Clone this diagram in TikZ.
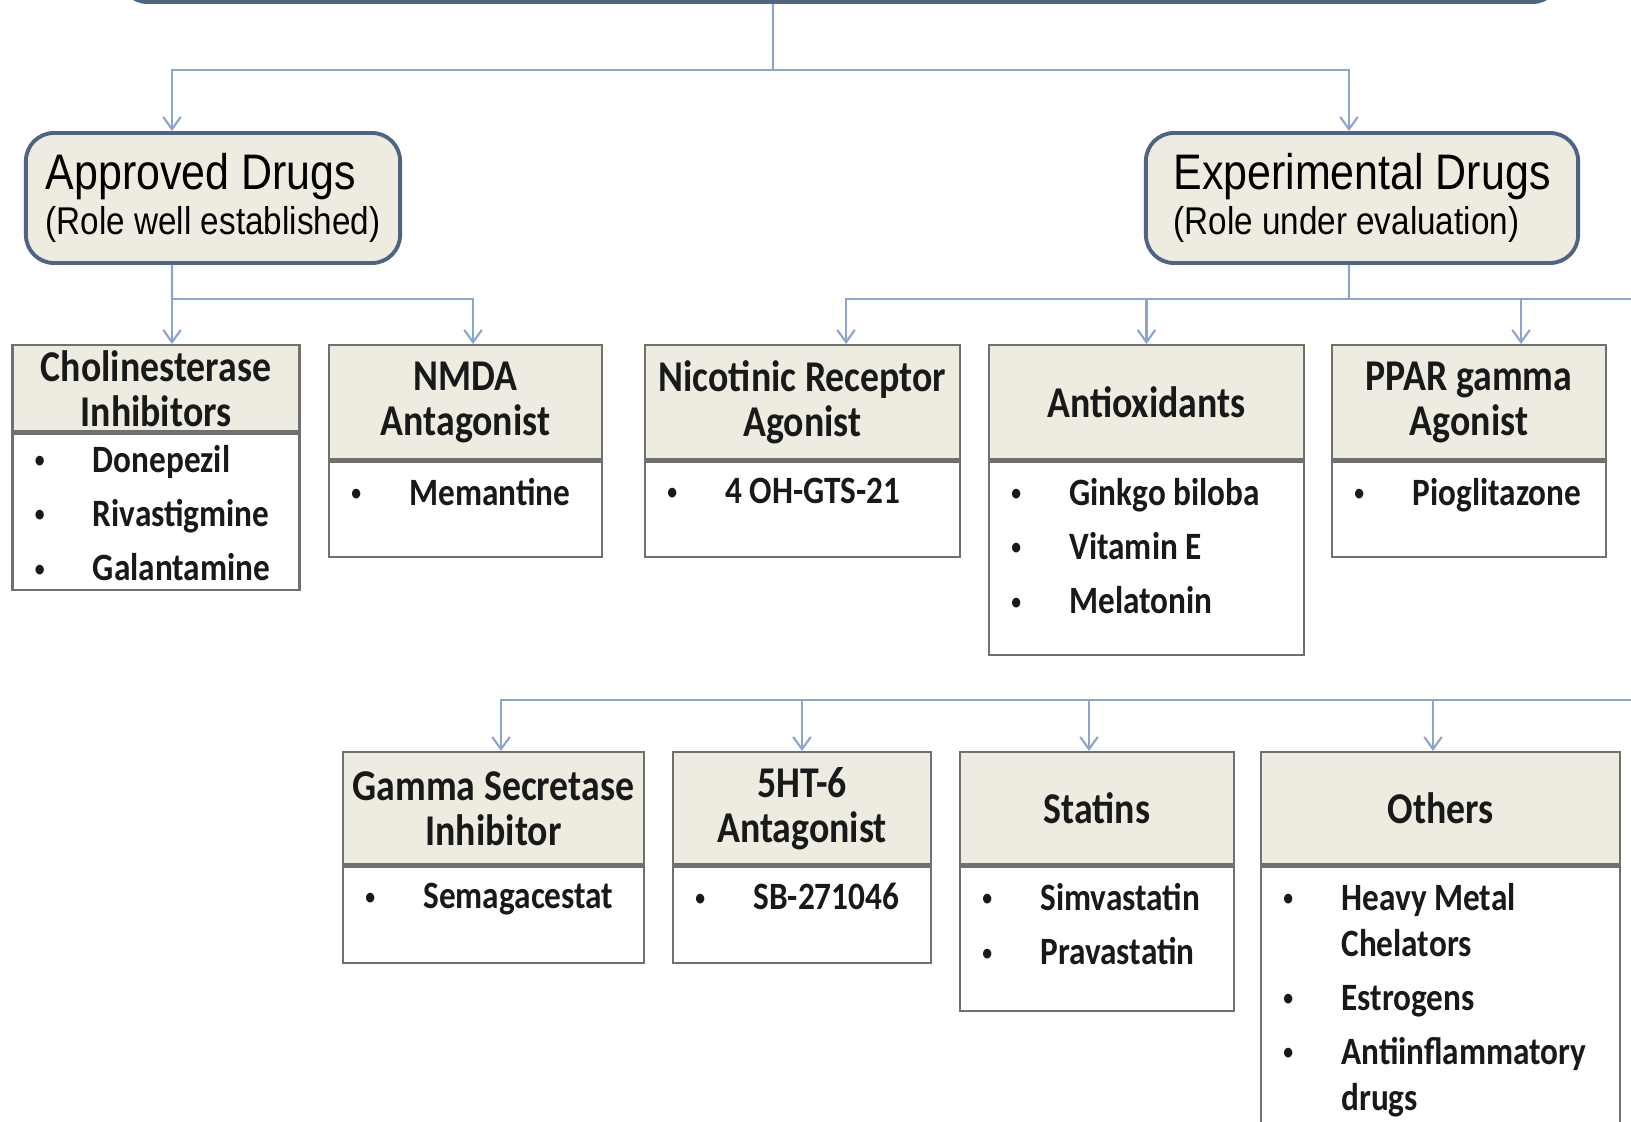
\documentclass[tikz,border=0pt]{standalone}
\usepackage{fontspec}
\usepackage{tikz}
\usetikzlibrary{positioning, arrows.meta, calc}

\newfontfamily\carlito[FakeStretch=0.86]{Carlito}
\newfontfamily\arialc[FakeStretch=0.86]{Liberation Sans}

\definecolor{headfill}{RGB}{238,236,225}
\definecolor{grpline}{RGB}{78,100,128}
\definecolor{tabline}{RGB}{112,112,112}
\definecolor{linkblue}{RGB}{140,166,202}

\newcommand{\itm}[1]{\makebox[0.58cm][l]{\raisebox{1.3pt}{\fontsize{6.5}{6.5}\selectfont\textbullet}}#1}

\begin{document}
\begin{tikzpicture}[
  x=0.01cm, y=-0.01cm,
  group/.style={draw=grpline, line width=1.1pt, fill=headfill, rounded corners=8pt,
                align=left, inner sep=0pt, font=\arialc\fontsize{14.2}{12.8}\selectfont},
  head/.style={draw=tabline, line width=0.7pt, fill=headfill, anchor=north, inner sep=1pt,
               align=center, text=black!90, font=\carlito\bfseries\fontsize{12.5}{12.8}\selectfont},
  body/.style={draw=tabline, line width=0.7pt, fill=white, anchor=north, inner sep=0pt},
  items/.style={anchor=north west, inner sep=0pt, align=left, text=black!90,
                font=\carlito\bfseries\fontsize{11}{13}\selectfont},
  link/.style={draw=linkblue, line width=0.6pt},
  arr/.style={link, -{Straight Barb[length=3.5pt,width=5pt]}}
]
\clip (0,0) rectangle (1631,1122);

%--- Row 0: Root (cut off at the top) ---
\node[group, anchor=south, minimum width=14.4cm, minimum height=0.6cm] (root) at (840,4) {};

%--- Row 1: Approved / Experimental ---
\node[group, minimum width=3.74cm, minimum height=1.3cm] (apv) at (213,198)
  {Approved Drugs\\{\fontsize{11}{12.8}\selectfont (Role well established)}};
\node[group, minimum width=4.32cm, minimum height=1.3cm] (exp) at (1362,198)
  {Experimental Drugs\\{\fontsize{11}{12.8}\selectfont (Role under evaluation)}};

\coordinate (rj) at (773,70);
\draw[link] ([xshift=-0.67cm]root.south) -- (rj);
\draw[arr] (rj) -| ([xshift=-0.41cm]apv.north);
\draw[arr] (rj) -| ([xshift=-0.13cm]exp.north);

%--- Row 2: Approved classes ---
\node[head, minimum width=2.87cm, minimum height=0.86cm] (chei) at (156,344) {Cholinesterase\\Inhibitors};
\node[body, minimum width=2.87cm, minimum height=1.56cm] (cheiB) at (chei.south) {};
\node[items] (cheiL) at ([xshift=0.23cm, yshift=-0.12cm]cheiB.north west)
  {\itm{Donepezil}\\[2.4pt]\itm{Rivastigmine}\\[2.4pt]\itm{Galantamine}};

\node[head, minimum width=2.73cm, minimum height=1.14cm] (nmda) at (465.5,344) {NMDA\\Antagonist};
\node[body, minimum width=2.73cm, minimum height=0.95cm] (nmdaB) at (nmda.south) {};
\node[items] (nmdaL) at ([xshift=0.23cm, yshift=-0.17cm]nmdaB.north west) {\itm{Memantine}};

\coordinate (aj) at (172,299);
\draw[link] ([xshift=-0.41cm]apv.south) -- (aj);
\draw[arr] (aj) -| ([xshift=0.16cm]chei.north);
\draw[arr] (aj) -| ([xshift=0.075cm]nmda.north);

%--- Row 2: Experimental classes ---
\node[head, minimum width=3.15cm, minimum height=1.14cm] (nic) at (802.5,344) {Nicotinic Receptor\\Agonist};
\node[body, minimum width=3.15cm, minimum height=0.95cm] (nicB) at (nic.south) {};
\node[items] (nicL) at ([xshift=0.23cm, yshift=-0.17cm]nicB.north west) {\itm{4 OH-GTS-21}};

\node[head, minimum width=3.15cm, minimum height=1.14cm] (antiox) at (1146.5,344) {Antioxidants};
\node[body, minimum width=3.15cm, minimum height=1.93cm] (antioxB) at (antiox.south) {};
\node[items] (antioxL) at ([xshift=0.23cm, yshift=-0.17cm]antioxB.north west)
  {\itm{Ginkgo biloba}\\[2.4pt]\itm{Vitamin E}\\[2.4pt]\itm{Melatonin}};

\node[head, minimum width=2.74cm, minimum height=1.14cm] (ppar) at (1469,344) {PPAR gamma\\Agonist};
\node[body, minimum width=2.74cm, minimum height=0.95cm] (pparB) at (ppar.south) {};
\node[items] (pparL) at ([xshift=0.23cm, yshift=-0.17cm]pparB.north west) {\itm{Pioglitazone}};

\coordinate (ej) at (1349,299);
\coordinate (eastA) at (1631,299);
\draw[link] ([xshift=-0.13cm]exp.south) -- (ej);
\draw[link] (ej) -- (eastA);
\draw[arr] (ej) -| ([xshift=0.435cm]nic.north);
\draw[arr] (ej) -| (antiox.north);
\draw[arr] (ej) -| ([xshift=0.52cm]ppar.north);

%--- Row 3: further experimental classes ---
\node[head, minimum width=3.01cm, minimum height=1.12cm] (gsi) at (493.5,751) {Gamma Secretase\\Inhibitor};
\node[body, minimum width=3.01cm, minimum height=0.96cm] (gsiB) at (gsi.south) {};
\node[items] (gsiL) at ([xshift=0.23cm, yshift=-0.17cm]gsiB.north west) {\itm{Semagacestat}};

\node[head, minimum width=2.58cm, minimum height=1.12cm] (ht6) at (802,751) {5HT-6\\Antagonist};
\node[body, minimum width=2.58cm, minimum height=0.96cm] (ht6B) at (ht6.south) {};
\node[items] (ht6L) at ([xshift=0.23cm, yshift=-0.17cm]ht6B.north west) {\itm{SB-271046}};

\node[head, minimum width=2.74cm, minimum height=1.12cm] (stat) at (1097,751) {Statins};
\node[body, minimum width=2.74cm, minimum height=1.44cm] (statB) at (stat.south) {};
\node[items] (statL) at ([xshift=0.23cm, yshift=-0.17cm]statB.north west)
  {\itm{Simvastatin}\\[2.4pt]\itm{Pravastatin}};

\node[head, minimum width=3.59cm, minimum height=1.12cm] (oth) at (1440.5,751) {Others};
\node[body, minimum width=3.59cm, minimum height=2.57cm] (othB) at (oth.south) {};
\node[items] (othL) at ([xshift=0.23cm, yshift=-0.17cm]othB.north west)
  {\itm{Heavy Metal}\\\hspace*{0.58cm}Chelators\\[2.4pt]\itm{Estrogens}\\[2.4pt]\itm{Antiinflammatory}\\\hspace*{0.58cm}drugs};

\coordinate (eastB) at (1631,700);
\draw[arr] (eastB) -| ([xshift=0.075cm]gsi.north);
\draw[arr] (ht6.north |- eastB) -- (ht6.north);
\draw[arr] ([xshift=-0.08cm]stat.north |- eastB) -- ([xshift=-0.08cm]stat.north);
\draw[arr] ([xshift=-0.075cm]oth.north |- eastB) -- ([xshift=-0.075cm]oth.north);

\end{tikzpicture}
\end{document}
